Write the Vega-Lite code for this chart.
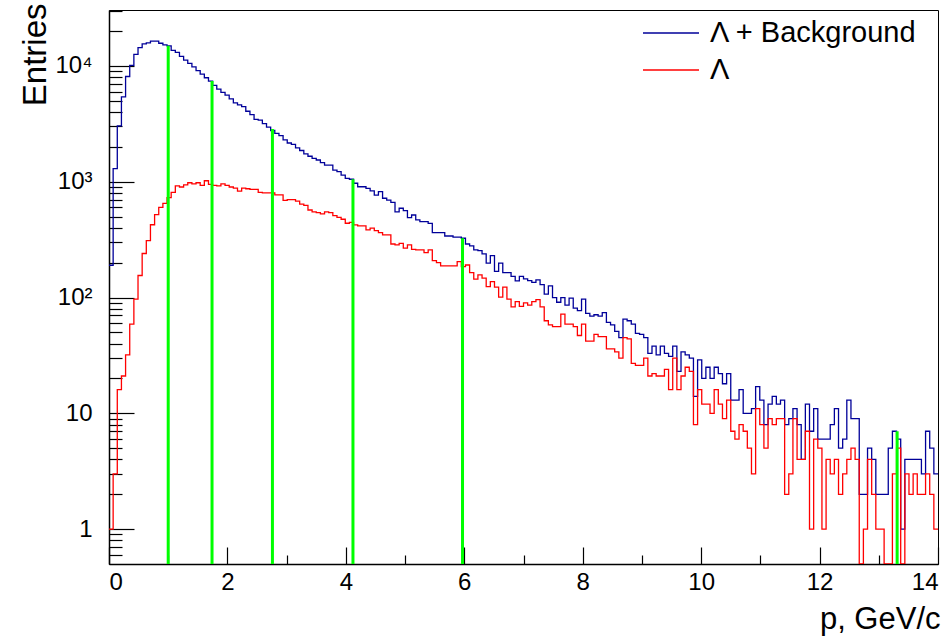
{
  "$schema": "https://vega.github.io/schema/vega-lite/v6.json",
  "width": 829,
  "height": 554,
  "autosize": {"type": "none"},
  "padding": {"left": 109, "top": 10, "right": 9, "bottom": 74},
  "background": "white",
  "config": {
    "view": {"stroke": "#000", "strokeWidth": 1},
    "font": "Liberation Sans"
  },
  "datasets": {
    "hist": [
      {"p":0,"all":190,"lam":1},{"p":0.07,"all":1300,"lam":3},{"p":0.14,"all":3030,"lam":16},{"p":0.21,"all":5400,"lam":21},
      {"p":0.28,"all":8100,"lam":32},{"p":0.35,"all":10100,"lam":59},{"p":0.42,"all":12600,"lam":97},{"p":0.49,"all":14400,"lam":155},
      {"p":0.56,"all":15500,"lam":240},{"p":0.63,"all":15800,"lam":310},{"p":0.7,"all":16400,"lam":425},{"p":0.77,"all":16400,"lam":520},
      {"p":0.84,"all":15700,"lam":600},{"p":0.91,"all":15200,"lam":650},{"p":0.98,"all":14900,"lam":730},{"p":1.05,"all":13600,"lam":810},
      {"p":1.12,"all":13100,"lam":920},{"p":1.19,"all":12100,"lam":900},{"p":1.26,"all":11200,"lam":940},{"p":1.33,"all":10500,"lam":980},
      {"p":1.4,"all":9800,"lam":960},{"p":1.47,"all":9100,"lam":980},{"p":1.54,"all":8500,"lam":930},{"p":1.61,"all":7900,"lam":1020},
      {"p":1.68,"all":7400,"lam":950},{"p":1.75,"all":6800,"lam":930},{"p":1.82,"all":6300,"lam":920},{"p":1.89,"all":5900,"lam":960},
      {"p":1.96,"all":5600,"lam":930},{"p":2.03,"all":5200,"lam":900},{"p":2.1,"all":4800,"lam":880},{"p":2.17,"all":4600,"lam":830},
      {"p":2.24,"all":4450,"lam":880},{"p":2.31,"all":4060,"lam":870},{"p":2.38,"all":3800,"lam":860},{"p":2.45,"all":3460,"lam":860},
      {"p":2.52,"all":3400,"lam":810},{"p":2.59,"all":3170,"lam":800},{"p":2.66,"all":2960,"lam":800},{"p":2.73,"all":2770,"lam":800},
      {"p":2.8,"all":2620,"lam":770},{"p":2.87,"all":2500,"lam":770},{"p":2.94,"all":2300,"lam":690},{"p":3.01,"all":2160,"lam":700},
      {"p":3.08,"all":2100,"lam":700},{"p":3.15,"all":1960,"lam":680},{"p":3.22,"all":1860,"lam":640},{"p":3.29,"all":1740,"lam":625},
      {"p":3.36,"all":1660,"lam":570},{"p":3.43,"all":1590,"lam":550},{"p":3.5,"all":1540,"lam":540},{"p":3.57,"all":1460,"lam":527},
      {"p":3.64,"all":1390,"lam":550},{"p":3.71,"all":1390,"lam":540},{"p":3.78,"all":1260,"lam":509},{"p":3.85,"all":1220,"lam":493},
      {"p":3.92,"all":1140,"lam":474},{"p":3.99,"all":1070,"lam":438},{"p":4.06,"all":1050,"lam":446},{"p":4.13,"all":970,"lam":424},
      {"p":4.2,"all":905,"lam":415},{"p":4.27,"all":905,"lam":415},{"p":4.34,"all":877,"lam":384},{"p":4.41,"all":835,"lam":397},
      {"p":4.48,"all":767,"lam":378},{"p":4.55,"all":820,"lam":363},{"p":4.62,"all":720,"lam":347},{"p":4.69,"all":694,"lam":347},
      {"p":4.76,"all":663,"lam":290},{"p":4.83,"all":550,"lam":285},{"p":4.9,"all":590,"lam":294},{"p":4.97,"all":562,"lam":267},
      {"p":5.04,"all":489,"lam":285},{"p":5.11,"all":516,"lam":261},{"p":5.18,"all":468,"lam":258},{"p":5.25,"all":452,"lam":258},
      {"p":5.32,"all":452,"lam":244},{"p":5.39,"all":437,"lam":258},{"p":5.46,"all":363,"lam":208},{"p":5.53,"all":363,"lam":200},
      {"p":5.6,"all":363,"lam":188},{"p":5.67,"all":340,"lam":188},{"p":5.74,"all":340,"lam":188},{"p":5.81,"all":333,"lam":188},
      {"p":5.88,"all":333,"lam":204},{"p":5.95,"all":325,"lam":185},{"p":6.02,"all":290,"lam":191},{"p":6.09,"all":279,"lam":164},
      {"p":6.16,"all":258,"lam":144},{"p":6.23,"all":254,"lam":157},{"p":6.3,"all":238,"lam":147},{"p":6.37,"all":198,"lam":124},
      {"p":6.44,"all":230,"lam":137},{"p":6.51,"all":168,"lam":123},{"p":6.58,"all":198,"lam":101},{"p":6.65,"all":164,"lam":123},
      {"p":6.72,"all":164,"lam":97},{"p":6.79,"all":152,"lam":83},{"p":6.86,"all":139,"lam":92},{"p":6.93,"all":152,"lam":84},
      {"p":7,"all":145,"lam":90},{"p":7.07,"all":140,"lam":86},{"p":7.14,"all":135,"lam":92},{"p":7.21,"all":142,"lam":96},
      {"p":7.28,"all":129,"lam":83},{"p":7.35,"all":107,"lam":63},{"p":7.42,"all":126,"lam":58},{"p":7.49,"all":100,"lam":56},
      {"p":7.56,"all":91,"lam":56},{"p":7.63,"all":100,"lam":72},{"p":7.7,"all":86,"lam":59},{"p":7.77,"all":99,"lam":59},
      {"p":7.84,"all":81,"lam":56},{"p":7.91,"all":77,"lam":47},{"p":7.98,"all":97,"lam":59},{"p":8.05,"all":73,"lam":42},
      {"p":8.12,"all":69,"lam":42},{"p":8.19,"all":71,"lam":48},{"p":8.26,"all":69,"lam":46},{"p":8.33,"all":74,"lam":46},
      {"p":8.4,"all":61,"lam":36},{"p":8.47,"all":58,"lam":36},{"p":8.54,"all":51,"lam":34},{"p":8.61,"all":45,"lam":30},
      {"p":8.68,"all":65,"lam":45},{"p":8.75,"all":63,"lam":44},{"p":8.82,"all":59,"lam":27},{"p":8.89,"all":49,"lam":26},
      {"p":8.96,"all":48,"lam":26},{"p":9.03,"all":45,"lam":30},{"p":9.1,"all":33,"lam":21},{"p":9.17,"all":38,"lam":22},
      {"p":9.24,"all":32,"lam":21},{"p":9.31,"all":38,"lam":21},{"p":9.38,"all":33,"lam":24},{"p":9.45,"all":31,"lam":16},
      {"p":9.52,"all":38,"lam":30},{"p":9.59,"all":23,"lam":16},{"p":9.66,"all":34,"lam":21},{"p":9.73,"all":32,"lam":25},
      {"p":9.8,"all":30,"lam":23},{"p":9.87,"all":14,"lam":8},{"p":9.94,"all":29,"lam":16},{"p":10.01,"all":20,"lam":12},
      {"p":10.08,"all":25,"lam":12},{"p":10.15,"all":20,"lam":10},{"p":10.22,"all":25,"lam":16},{"p":10.29,"all":22,"lam":12},
      {"p":10.36,"all":18,"lam":9},{"p":10.43,"all":22,"lam":13},{"p":10.5,"all":13,"lam":7},{"p":10.57,"all":13,"lam":6},
      {"p":10.64,"all":16,"lam":8},{"p":10.71,"all":10,"lam":7},{"p":10.78,"all":10,"lam":5},{"p":10.85,"all":11,"lam":3},
      {"p":10.92,"all":17,"lam":11},{"p":10.99,"all":13,"lam":8},{"p":11.06,"all":8,"lam":5},{"p":11.13,"all":12,"lam":9},
      {"p":11.2,"all":14,"lam":8},{"p":11.27,"all":12,"lam":9},{"p":11.34,"all":13,"lam":9},{"p":11.41,"all":8,"lam":2},
      {"p":11.48,"all":9,"lam":3},{"p":11.55,"all":11,"lam":9},{"p":11.62,"all":8,"lam":4},{"p":11.69,"all":4,"lam":4},
      {"p":11.76,"all":12,"lam":7},{"p":11.83,"all":7,"lam":1},{"p":11.9,"all":11,"lam":6},{"p":11.97,"all":6,"lam":5},
      {"p":12.04,"all":6,"lam":1},{"p":12.11,"all":6,"lam":4},{"p":12.18,"all":8,"lam":3},{"p":12.25,"all":11,"lam":4},
      {"p":12.32,"all":5,"lam":2},{"p":12.39,"all":6,"lam":3},{"p":12.46,"all":13,"lam":4},{"p":12.53,"all":9,"lam":5},
      {"p":12.6,"all":9,"lam":4},{"p":12.67,"all":2,"lam":0},{"p":12.74,"all":2,"lam":1},{"p":12.81,"all":5,"lam":4},
      {"p":12.88,"all":4,"lam":2},{"p":12.95,"all":2,"lam":1},{"p":13.02,"all":2,"lam":1},{"p":13.09,"all":2,"lam":0},
      {"p":13.16,"all":5,"lam":0},{"p":13.23,"all":7,"lam":3},{"p":13.3,"all":6,"lam":5},{"p":13.37,"all":1,"lam":0},
      {"p":13.44,"all":4,"lam":3},{"p":13.51,"all":4,"lam":2},{"p":13.58,"all":4,"lam":3},{"p":13.65,"all":4,"lam":2},
      {"p":13.72,"all":3,"lam":2},{"p":13.79,"all":7,"lam":3},{"p":13.86,"all":5,"lam":2},{"p":13.93,"all":3,"lam":1},
      {"p":14,"all":3,"lam":1}
    ],
    "cuts": [
      {"p":1.0,"n":14900},{"p":1.74,"n":7400},{"p":2.76,"n":2850},{"p":4.12,"n":1050},{"p":5.97,"n":325},{"p":13.31,"n":7}
    ]
  },
  "layer": [
    {
      "data": {"name": "hist"},
      "transform": [{"fold": ["all", "lam"], "as": ["s", "n"]}],
      "mark": {"type": "line", "interpolate": "step-after", "strokeWidth": 1.3, "clip": true, "invalid": "show"},
      "encoding": {
        "x": {
          "field": "p", "type": "quantitative",
          "scale": {"domain": [0, 14], "nice": false, "zero": false},
          "axis": {
            "title": "p, GeV/c",
            "values": [0,0.5,1,1.5,2,2.5,3,3.5,4,4.5,5,5.5,6,6.5,7,7.5,8,8.5,9,9.5,10,10.5,11,11.5,12,12.5,13,13.5,14],
            "format": "d",
            "labelExpr": "datum.value % 2 === 0 ? datum.label : ''",
            "grid": false,
            "domainColor": "#000", "domainWidth": 1.5,
            "tickColor": "#000", "tickWidth": 1.2,
            "tickSize": {"condition": {"test": "datum.value % 2 === 0", "value": -17}, "value": -9},
            "labelFontSize": 24, "labelColor": "#000", "labelPadding": 23,
            "labelFont": "Liberation Sans",
            "titleFont": "Liberation Sans", "titleFontSize": 31, "titleFontWeight": "normal", "titleColor": "#000",
            "titleAlign": "right", "titleBaseline": "alphabetic", "titleX": 831, "titleY": 64, "titleAngle": 0
          }
        },
        "y": {
          "field": "n", "type": "quantitative",
          "scale": {"type": "log", "domain": [0.5, 30400], "nice": false, "clamp": true},
          "axis": {
            "title": "Entries",
            "values": [0.6,0.7,0.8,0.9,1,2,3,4,5,6,7,8,9,10,20,30,40,50,60,70,80,90,100,200,300,400,500,600,700,800,900,1000,2000,3000,4000,5000,6000,7000,8000,9000,10000,20000,30000],
            "labelExpr": "datum.value === 1 ? '1' : datum.value === 10 ? '10' : datum.value === 100 ? '10²' : datum.value === 1000 ? '10³' : datum.value === 10000 ? '10⁴' : ''",
            "grid": false,
            "domainColor": "#000", "domainWidth": 1.5,
            "tickColor": "#000", "tickWidth": 1.2,
            "tickSize": {"condition": {"test": "datum.value === 1 || datum.value === 10 || datum.value === 100 || datum.value === 1000 || datum.value === 10000", "value": -25}, "value": -13},
            "labelFontSize": 24, "labelColor": "#000", "labelPadding": 42,
            "labelFont": "Liberation Sans",
            "titleFont": "Liberation Sans", "titleFontSize": 33, "titleFontWeight": "normal", "titleColor": "#000",
            "titleAngle": -90, "titleAlign": "right", "titleBaseline": "alphabetic", "titleX": -64, "titleY": -7
          }
        },
        "color": {
          "field": "s", "type": "nominal",
          "scale": {"domain": ["all", "lam"], "range": ["#000099", "#ff0000"]},
          "legend": {
            "orient": "none", "legendX": 533, "legendY": 4.5, "title": null,
            "symbolType": "stroke", "symbolSize": 3136, "symbolStrokeWidth": 1.5,
            "clipHeight": 37, "rowPadding": 0, "padding": 0, "labelOffset": 10,
            "labelFont": "Liberation Sans", "labelFontSize": 29, "labelColor": "#000", "labelLimit": 400,
            "labelExpr": "datum.value === 'all' ? 'Λ + Background' : 'Λ'"
          }
        }
      }
    },
    {
      "data": {"name": "cuts"},
      "mark": {"type": "rule", "color": "#00ff00", "strokeWidth": 3},
      "encoding": {
        "x": {"field": "p", "type": "quantitative"},
        "y": {"field": "n", "type": "quantitative"},
        "y2": {"datum": 0.5}
      }
    }
  ]
}
